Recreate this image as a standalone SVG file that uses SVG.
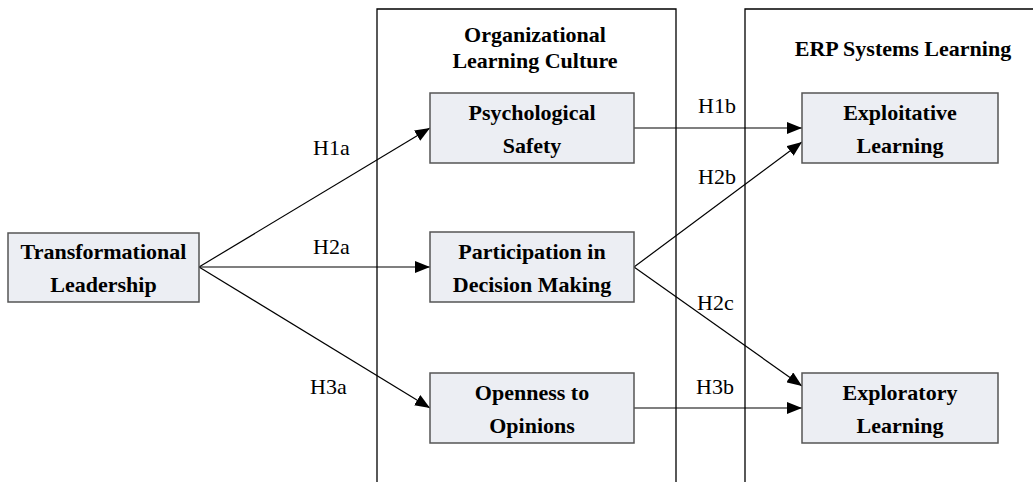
<svg xmlns="http://www.w3.org/2000/svg" width="1033" height="482" viewBox="0 0 1033 482">
<defs>
<style>
.box{fill:#eceef3;stroke:#555;stroke-width:1.5}
.cont{fill:none;stroke:#000;stroke-width:1.3}
.t{font-family:'Liberation Serif',serif;font-size:22px;font-weight:bold;text-anchor:middle;fill:#000}
.l{font-family:'Liberation Serif',serif;font-size:22px;fill:#000}
.c{stroke:#000;stroke-width:1.2;fill:none;marker-end:url(#ah)}
</style>
<marker id="ah" markerUnits="userSpaceOnUse" markerWidth="16" markerHeight="12" refX="15" refY="6" orient="auto">
<path d="M0,0 L15,6 L0,12 Z" fill="#000"/>
</marker>
</defs>
<rect width="1033" height="482" fill="#fff"/>
<g id="container-olc">
<path class="cont" d="M377,490 V9 H676 V490"/>
<text class="t" x="535" y="42">Organizational</text>
<text class="t" x="535" y="68">Learning Culture</text>
</g>
<g id="container-erp">
<path class="cont" d="M745,490 V9 H1040"/>
<text class="t" x="903" y="56">ERP Systems Learning</text>
</g>
<g id="connectors">
<line class="c" x1="199" y1="267" x2="430" y2="128"/>
<line class="c" x1="199" y1="267" x2="430" y2="267"/>
<line class="c" x1="199" y1="267" x2="430" y2="408"/>
<line class="c" x1="634" y1="128" x2="802" y2="128"/>
<line class="c" x1="634" y1="267" x2="802" y2="142"/>
<line class="c" x1="634" y1="267" x2="802" y2="386"/>
<line class="c" x1="634" y1="408" x2="802" y2="408"/>
<text class="l" x="313" y="155">H1a</text>
<text class="l" x="313" y="254">H2a</text>
<text class="l" x="310" y="394">H3a</text>
<text class="l" x="698" y="113">H1b</text>
<text class="l" x="698" y="184">H2b</text>
<text class="l" x="697" y="310">H2c</text>
<text class="l" x="696" y="394">H3b</text>
</g>
<g id="transformational-leadership">
<rect class="box" x="8" y="233" width="191" height="69"/>
<text class="t" x="103.5" y="259">Transformational</text>
<text class="t" x="103.5" y="292">Leadership</text>
</g>
<g id="psychological-safety">
<rect class="box" x="430" y="93" width="204" height="70"/>
<text class="t" x="532" y="120">Psychological</text>
<text class="t" x="532" y="153">Safety</text>
</g>
<g id="participation">
<rect class="box" x="430" y="232" width="204" height="70"/>
<text class="t" x="532" y="259">Participation in</text>
<text class="t" x="532" y="292">Decision Making</text>
</g>
<g id="openness">
<rect class="box" x="430" y="373" width="204" height="70"/>
<text class="t" x="532" y="400">Openness to</text>
<text class="t" x="532" y="433">Opinions</text>
</g>
<g id="exploitative">
<rect class="box" x="802" y="93" width="196" height="70"/>
<text class="t" x="900" y="120">Exploitative</text>
<text class="t" x="900" y="153">Learning</text>
</g>
<g id="exploratory">
<rect class="box" x="802" y="373" width="196" height="70"/>
<text class="t" x="900" y="400">Exploratory</text>
<text class="t" x="900" y="433">Learning</text>
</g>
</svg>
